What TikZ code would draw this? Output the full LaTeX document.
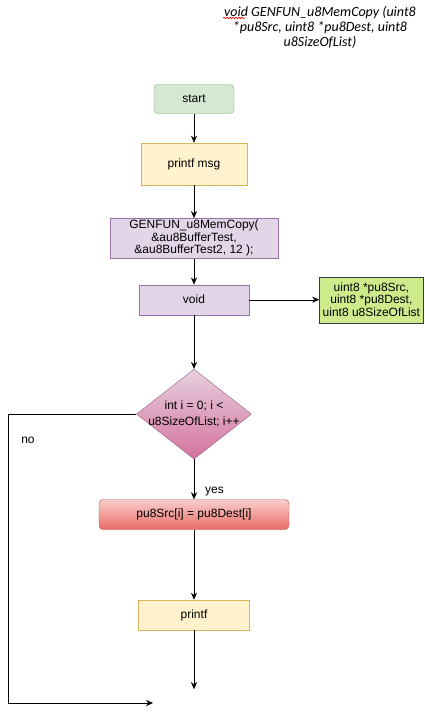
\documentclass[tikz,border=0pt]{standalone}
\usepackage{fontspec}
\setmainfont{Liberation Sans}
\newfontfamily\notefont{Carlito}
\usetikzlibrary{
  shapes.geometric,
  arrows.meta,
  positioning,              % Function "of" (e.g. [below=of x])
  decorations.pathmorphing, % Spell check wave under the note
}
\definecolor{startfill}{HTML}{D5E8D4}
\definecolor{startdraw}{HTML}{82B366}
\definecolor{printfill}{HTML}{FFF2CC}
\definecolor{printdraw}{HTML}{D6B656}
\definecolor{callfill}{HTML}{E1D5E7}
\definecolor{calldraw}{HTML}{9673A6}
\definecolor{paramfill}{HTML}{CDEB8B}
\definecolor{paramdraw}{HTML}{36393D}
\definecolor{condtop}{HTML}{E6D0DE}
\definecolor{condbot}{HTML}{D5739D}
\definecolor{conddraw}{HTML}{996185}
\definecolor{copytop}{HTML}{F8CECC}
\definecolor{copybot}{HTML}{EA6B66}
\definecolor{copydraw}{HTML}{B85450}
\tikzset{
  font=\fontsize{12}{12.5}\selectfont,
  x=1pt,
  y=-1pt,
  line width=1pt,
  >={Stealth[length=7pt,width=6pt]},
  my box/.style={
    draw,
    minimum height=30pt,
    inner sep=0pt,
    align=center,
    rectangle
  },
  my start/.style={
    my box,
    rounded corners=4pt,
    fill=startfill,
    draw=startdraw,
    minimum width=80pt,
    minimum height=29pt
  },
  my print/.style={
    my box,
    fill=printfill,
    draw=printdraw
  },
  my call/.style={
    my box,
    fill=callfill,
    draw=calldraw
  },
  my param/.style={
    my box,
    fill=paramfill,
    draw=paramdraw,
    minimum width=104pt,
    minimum height=46pt
  },
  my cond/.style={
    draw=conddraw,
    top color=condtop,
    bottom color=condbot,
    minimum width=115pt,
    minimum height=90pt,
    inner sep=0pt,
    diamond
  },
  my cond text/.style={
    font=\fontsize{12}{16}\selectfont,
    align=center,
    inner sep=0pt
  },
  my copy/.style={
    my box,
    rounded corners=4pt,
    top color=copytop,
    bottom color=copybot,
    draw=copydraw,
    minimum width=190pt
  },
  my label/.style={
    inner sep=0pt
  },
  my note/.style={
    font=\notefont\itshape\fontsize{14}{15}\selectfont,
    align=center,
    inner sep=0pt
  },
  spell/.style={
    draw=red,
    line width=0.6pt,
    decorate,
    decoration={snake,amplitude=0.8pt,segment length=3pt}
  }
}
\begin{document}
\begin{tikzpicture}
\useasboundingbox (0,0) rectangle (424,712);
\node[my note]  (head)  at (320,27)            {void GENFUN\_u8MemCopy (uint8\\{*}pu8Src, uint8 *pu8Dest, uint8\\u8SizeOfList)};
\node[my start] (start) at (194,99)            {start};
\node[my print,minimum width=106pt,minimum height=42pt]
                (msg)   [below=29pt of start]  {printf msg};
\node[my call,minimum width=168pt,minimum height=40pt]
                (call)  [below=33pt of msg]    {GENFUN\_u8MemCopy(\\\&au8BufferTest,\\\&au8BufferTest2, 12 );};
\node[my call,minimum width=110pt]
                (void)  [below=26pt of call]   {void};
\node[my param] (param) [right=70pt of void]   {uint8 *pu8Src,\\uint8 *pu8Dest,\\uint8 u8SizeOfList};
\node[my cond]  (loop)  [below=54pt of void]   {};
\node[my cond text] (looptxt) at (loop)        {int i = 0; i <\\u8SizeOfList; i++};
\node[my copy]  (copy)  [below=40pt of loop]   {pu8Src[i] = pu8Dest[i]};
\node[my print,minimum width=111pt]
                (out)   [below=70pt of copy]   {printf};
\node[my label] (no)    at (28,440)            {no};
\coordinate[below=59pt of out] (stop);
\coordinate (back) at (8,703);
\coordinate (fin)  at (153,703);
\path[->] (start) edge                                   (msg)
          (msg)   edge                                   (call)
          (call)  edge                                   (void)
          (void)  edge                                   (param)
          (void)  edge                                   (loop)
          (loop)  edge node[my label,pos=.8,right=11pt]{yes} (copy)
          (copy)  edge                                   (out)
          (out)   edge                                   (stop);
\draw[->] (loop.west) -| (back) -- (fin);
\draw[spell] (223,18) -- (245,18);
\end{tikzpicture}
\end{document}
